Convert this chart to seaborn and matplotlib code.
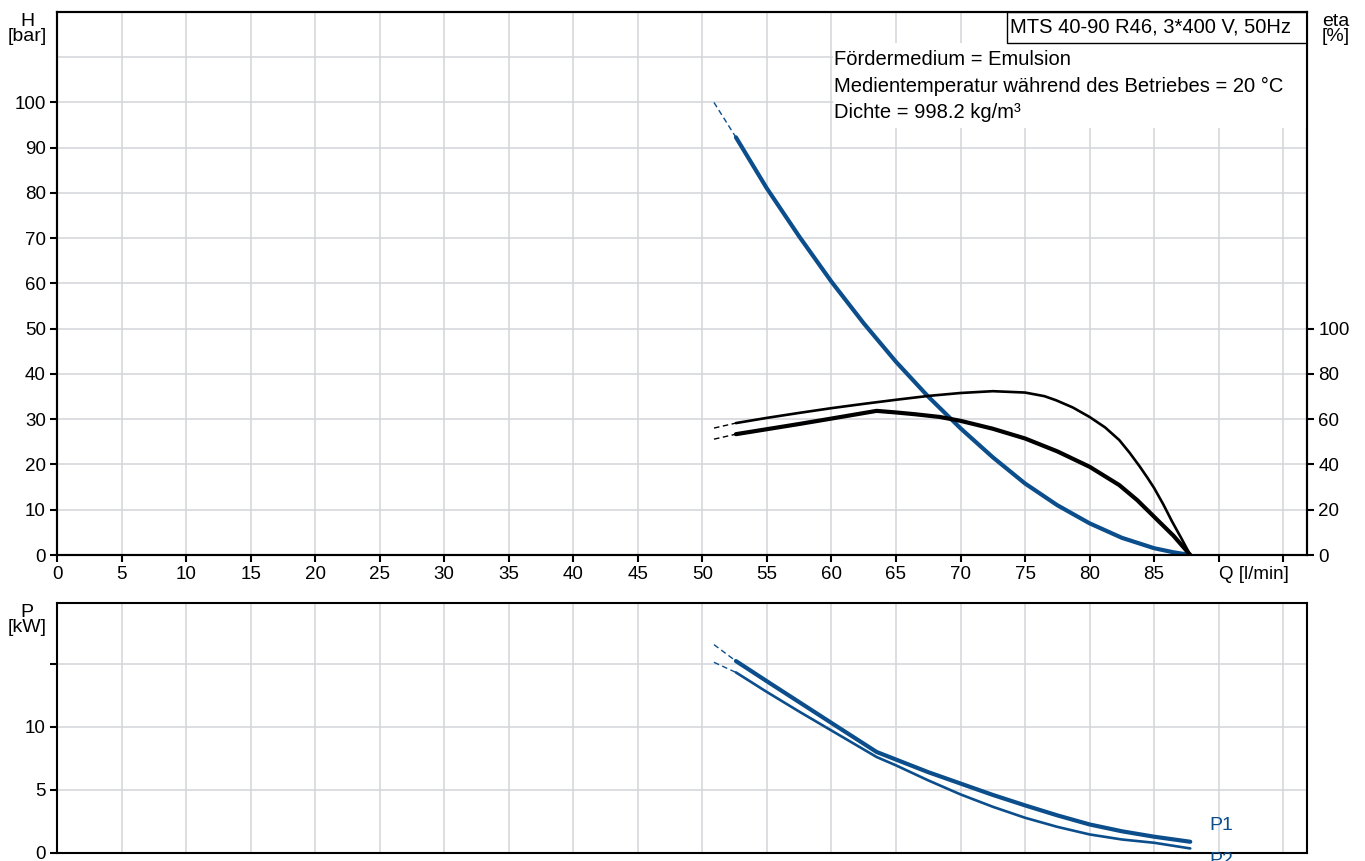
import matplotlib
matplotlib.use("Agg")
import matplotlib.pyplot as plt
import seaborn as sns
from matplotlib.patches import Rectangle

# Pumpenkennlinie MTS 40-90 R46
q_ext = [50.9, 52.6]  # gestrichelter Anlauf der Kurven

q_h = [52.6, 55.0, 57.5, 60.0, 62.5, 65.0, 67.5, 70.0, 72.5, 75.0, 77.5, 80.0, 82.5, 85.0, 86.5, 87.8]
h = [92.3, 81.0, 70.4, 60.4, 51.2, 42.7, 35.0, 28.0, 21.6, 15.8, 11.0, 7.0, 3.8, 1.5, 0.6, 0.0]
h_ext = [100.0, 92.3]

q_eta = [52.6, 55.0, 57.5, 60.0, 62.5, 65.0, 67.5, 70.0, 72.5, 75.0, 76.5, 77.4, 78.7, 80.0,
         81.2, 82.3, 83.1, 83.9, 84.5, 85.0, 85.7, 86.4, 87.1, 87.8]
eta1 = [58.3, 60.6, 62.8, 64.9, 66.8, 68.6, 70.3, 71.6, 72.4, 71.8, 70.2, 68.4, 65.2, 61.0,
        56.4, 50.8, 45.2, 39.0, 34.0, 29.6, 22.5, 14.7, 7.5, 0.0]
eta1_ext = [56.1, 58.3]

q_eta2 = [52.6, 55.0, 57.5, 60.0, 63.5, 65.0, 66.5, 68.4, 70.0, 72.5, 75.0, 77.5, 80.0, 82.3,
          83.7, 85.0, 86.5, 87.8]
eta2 = [53.4, 55.6, 57.9, 60.3, 63.7, 63.0, 62.2, 61.0, 59.3, 55.8, 51.5, 45.8, 39.0, 30.9,
        24.2, 16.9, 8.5, 0.0]
eta2_ext = [51.2, 53.4]

q_p = [52.6, 55.0, 57.5, 60.0, 63.5, 65.0, 67.5, 70.0, 72.5, 75.0, 77.5, 80.0, 82.5, 85.0, 87.8]
p1 = [15.2, 13.6, 11.95, 10.3, 8.0, 7.4, 6.4, 5.5, 4.6, 3.77, 2.98, 2.26, 1.72, 1.29, 0.89]
p2 = [14.3, 12.75, 11.2, 9.7, 7.6, 6.94, 5.75, 4.64, 3.66, 2.79, 2.07, 1.47, 1.07, 0.81, 0.36]
p1_ext = [16.5, 15.2]
p2_ext = [15.1, 14.3]

info_lines = ["Fördermedium = Emulsion",
              "Medientemperatur während des Betriebes = 20 °C",
              "Dichte = 998.2 kg/m³"]
title = "MTS 40-90 R46, 3*400 V, 50Hz"

blue = "#0b4e8b"
grid_c = "#d3d5d8"
dash = (0, (4, 2.5))

sns.set_theme(style="white")
plt.rcParams["font.family"] = ["Liberation Sans", "DejaVu Sans"]
plt.rcParams["font.size"] = 13.5
for k in ["text.color", "axes.labelcolor", "xtick.color", "ytick.color"]:
    plt.rcParams[k] = "black"

fig = plt.figure(figsize=(13.65, 8.61), dpi=100)
ax = fig.add_axes([0.04176, 0.3554, 0.9158, 0.6307])
axp = fig.add_axes([0.04176, 0.0093, 0.9158, 0.2904])
ax2 = ax.twinx()

# --- Förderhöhe ---
sns.lineplot(x=q_h, y=h, ax=ax, color=blue, linewidth=3.0, sort=False, estimator=None)
sns.lineplot(x=q_ext, y=h_ext, ax=ax, color=blue, linewidth=1.0, linestyle=dash,
             sort=False, estimator=None)

# --- Wirkungsgrad ---
sns.lineplot(x=q_eta, y=eta1, ax=ax2, color="black", linewidth=1.9, sort=False, estimator=None)
sns.lineplot(x=q_ext, y=eta1_ext, ax=ax2, color="black", linewidth=1.0, linestyle=dash,
             sort=False, estimator=None)
sns.lineplot(x=q_eta2, y=eta2, ax=ax2, color="black", linewidth=3.0, sort=False, estimator=None)
sns.lineplot(x=q_ext, y=eta2_ext, ax=ax2, color="black", linewidth=1.0, linestyle=dash,
             sort=False, estimator=None)

# --- Leistung ---
sns.lineplot(x=q_p, y=p1, ax=axp, color=blue, linewidth=3.0, sort=False, estimator=None)
sns.lineplot(x=q_ext, y=p1_ext, ax=axp, color=blue, linewidth=1.0, linestyle=dash,
             sort=False, estimator=None)
sns.lineplot(x=q_p, y=p2, ax=axp, color=blue, linewidth=1.9, sort=False, estimator=None)
sns.lineplot(x=q_ext, y=p2_ext, ax=axp, color=blue, linewidth=1.0, linestyle=dash,
             sort=False, estimator=None)

# Achsen oben
xt = list(range(0, 100, 5))
ax.set_xlim(0, 96.85)
ax.set_ylim(0, 120)
ax.set_xticks(xt)
xl = [str(v) for v in xt]
xl[-2] = "Q [l/min]"
xl[-1] = ""
ax.set_xticklabels(xl)
ax.get_xticklabels()[-2].set_ha("left")
ax.set_yticks(range(0, 101, 10))
ax.set_yticks([110, 120], minor=True)
ax.tick_params(axis="both", which="major", direction="out", length=5, width=1.5,
               color="black", labelsize=13.5, pad=3, bottom=True, left=True)
ax.tick_params(axis="y", which="minor", length=0)
ax.grid(True, which="both", color=grid_c, linewidth=1.1)
ax.set_axisbelow(True)

ax2.set_ylim(0, 240)
ax2.set_yticks(range(0, 101, 20))
ax2.tick_params(axis="y", direction="out", length=5, width=1.5, color="black",
                labelsize=13.5, pad=3, right=True)
ax2.grid(False)

# Achsen unten
axp.set_xlim(0, 96.85)
axp.set_ylim(0, 19.8)
axp.set_xticks(xt)
axp.set_xticklabels([])
axp.set_yticks([0, 5, 10, 15])
axp.set_yticklabels(["0", "5", "10", ""])
axp.tick_params(axis="x", length=0)
axp.tick_params(axis="y", direction="out", length=5, width=1.5, color="black",
                labelsize=13.5, pad=3, left=True)
axp.grid(True, color=grid_c, linewidth=1.1)
axp.set_axisbelow(True)

for a in (ax, ax2, axp):
    for s in a.spines.values():
        s.set_color("black")
        s.set_linewidth(1.5)
ax.set_xlabel("")
ax.set_ylabel("")
ax2.set_ylabel("")
axp.set_xlabel("")
axp.set_ylabel("")

# Infobox
ax.add_patch(Rectangle((0.621, 0.786), 0.379, 0.157, transform=ax.transAxes,
                       facecolor="white", edgecolor="none", zorder=3))
for i, line in enumerate(info_lines):
    ax.text(0.6215, 0.9116 - i * 0.0488, line, transform=ax.transAxes, fontsize=14.5,
            ha="left", va="center", zorder=4)
ax.add_patch(Rectangle((0.76, 0.943), 0.24, 0.057, transform=ax.transAxes,
                       facecolor="white", edgecolor="black", linewidth=1.0, zorder=5))
ax.text(0.7624, 0.9715, title, transform=ax.transAxes, fontsize=14.5,
        ha="left", va="center", zorder=6)

# Achsenbeschriftungen
fig.text(27 / 1365, 1 - 29 / 861, "H\n[bar]", ha="center", va="center", fontsize=14,
         linespacing=0.9)
fig.text(1336 / 1365, 1 - 29 / 861, "eta\n[%]", ha="center", va="center", fontsize=14,
         linespacing=0.9)
fig.text(27 / 1365, 1 - 620 / 861, "P\n[kW]", ha="center", va="center", fontsize=14,
         linespacing=0.9)

axp.text(89.3, 2.2, "P1", color=blue, fontsize=14, ha="left", va="center")
axp.text(89.3, -0.6, "P2", color=blue, fontsize=14, ha="left", va="center", clip_on=False)

fig.savefig("out.png", dpi=100)
